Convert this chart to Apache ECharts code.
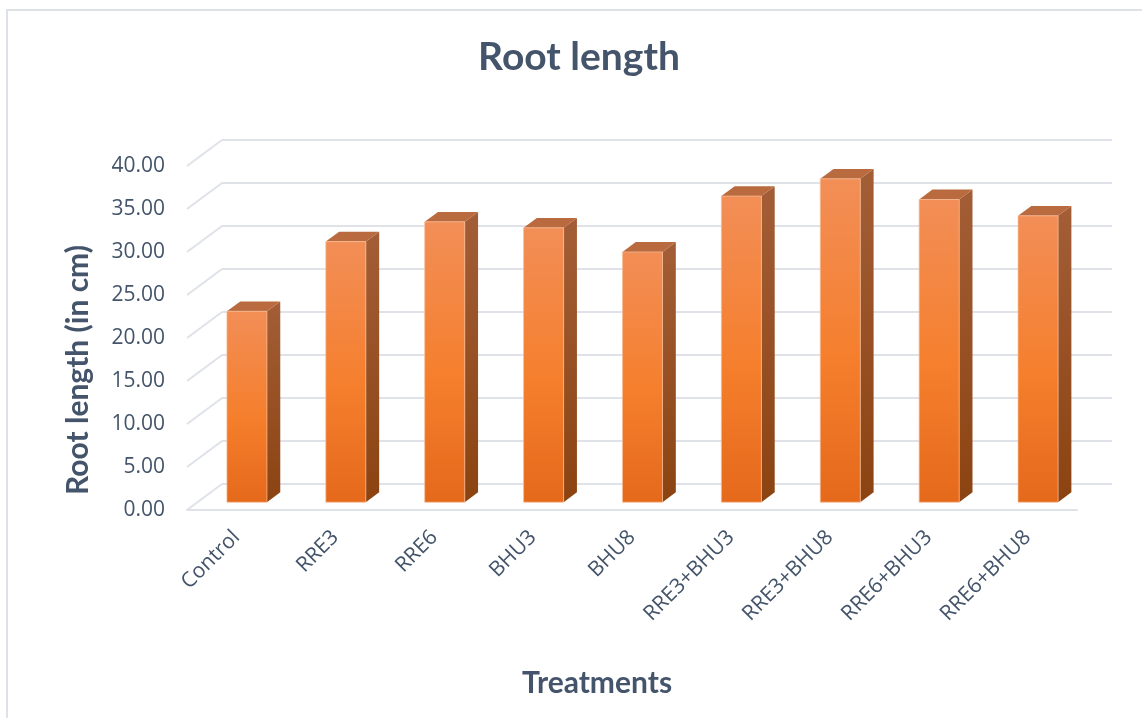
<!DOCTYPE html>
<html>
<head>
<meta charset="utf-8">
<title>Root length</title>
<script src="https://cdn.jsdelivr.net/npm/echarts@6/dist/echarts.min.js"></script>
<style>
  html, body { margin: 0; padding: 0; background: #ffffff; }
  #chart { width: 1142px; height: 718px; }
</style>
</head>
<body>
<div id="chart"></div>
<script>
// Treatments and mean root length (cm)
const categories = ['Control', 'RRE3', 'RRE6', 'BHU3', 'BHU8', 'RRE3+BHU3', 'RRE3+BHU8', 'RRE6+BHU3', 'RRE6+BHU8'];
const rootLength = [22.2, 30.3, 32.6, 31.9, 29.1, 35.6, 37.6, 35.2, 33.3];
const yTicks = [0, 5, 10, 15, 20, 25, 30, 35, 40];

// Oblique 3D look: depth vector from the front floor edge to the back wall
const DEPTH_X = 35, DEPTH_Y = -26;
const BAR_T0 = 0.30, BAR_T1 = 0.68;   // bar position inside the depth
const BAR_WIDTH = 0.405;               // fraction of the category band
const TEXT = '#44546A';
const GRID = '#DFE2E8';
const TITLE_FONT = 'Lato, "Open Sans", sans-serif';
const LABEL_FONT = '"Open Sans", Lato, sans-serif';

const chart = echarts.init(document.getElementById('chart'), null, { renderer: 'canvas' });

// Side wall diagonals and back wall gridlines
function wallItem(params, api) {
  const cs = params.coordSys;
  const y = api.coord([0, api.value(1)])[1];
  const x0 = cs.x;
  const lineStyle = { stroke: GRID, lineWidth: 2, fill: null };
  return {
    type: 'group',
    children: [
      { type: 'line', shape: { x1: x0, y1: y, x2: x0 + DEPTH_X, y2: y + DEPTH_Y }, style: lineStyle },
      { type: 'line', shape: { x1: x0 + DEPTH_X, y1: y + DEPTH_Y, x2: x0 + cs.width + DEPTH_X, y2: y + DEPTH_Y }, style: lineStyle }
    ]
  };
}

// 3D column: front face, right side face and top face
function barItem(params, api) {
  const i = api.value(0);
  const v = api.value(1);
  const base = api.coord([i, 0]);
  const top = api.coord([i, v]);
  const band = api.size([1, 0])[0];
  const w = band * BAR_WIDTH;
  const xl = base[0] - w / 2 + DEPTH_X * BAR_T0;
  const xr = xl + w;
  const yb = base[1] + DEPTH_Y * BAR_T0;
  const yt = top[1] + DEPTH_Y * BAR_T0;
  const dx = DEPTH_X * (BAR_T1 - BAR_T0);
  const dy = DEPTH_Y * (BAR_T1 - BAR_T0);
  return {
    type: 'group',
    children: [
      {
        type: 'polygon',
        shape: { points: [[xr, yb], [xr + dx, yb + dy], [xr + dx, yt + dy], [xr, yt]] },
        style: {
          fill: new echarts.graphic.LinearGradient(0, 0, 0, 1, [
            { offset: 0, color: '#A35E37' },
            { offset: 1, color: '#8B4311' }
          ])
        }
      },
      {
        type: 'polygon',
        shape: { points: [[xl, yt], [xr, yt], [xr + dx, yt + dy], [xl + dx, yt + dy]] },
        style: { fill: '#B96A3F' }
      },
      {
        type: 'rect',
        shape: { x: xl, y: yt, width: w, height: yb - yt },
        style: {
          fill: new echarts.graphic.LinearGradient(0, 0, 0, 1, [
            { offset: 0, color: '#F28E57' },
            { offset: 0.55, color: '#F57F2D' },
            { offset: 1, color: '#E5691B' }
          ]),
          stroke: 'rgba(250,190,150,0.7)',
          lineWidth: 1
        }
      }
    ]
  };
}

const option = {
  animation: false,
  backgroundColor: '#ffffff',
  title: {
    text: 'Root length',
    left: 574,
    top: 33,
    textAlign: 'center',
    textStyle: { color: TEXT, fontSize: 39, fontWeight: 'bold', fontFamily: TITLE_FONT }
  },
  grid: { left: 187, right: 65, top: 166, bottom: 208, containLabel: false },
  xAxis: {
    type: 'category',
    data: categories,
    axisLine: { show: true, lineStyle: { color: GRID, width: 2 } },
    axisTick: { show: false },
    axisLabel: {
      interval: 0,
      rotate: 45,
      margin: 24,
      color: TEXT,
      fontSize: 21,
      fontFamily: LABEL_FONT
    },
    splitLine: { show: false }
  },
  yAxis: {
    type: 'value',
    min: 0,
    max: 40,
    interval: 5,
    axisLine: { show: false },
    axisTick: { show: false },
    splitLine: { show: false },
    axisLabel: {
      margin: 22,
      color: TEXT,
      fontSize: 21,
      fontFamily: LABEL_FONT,
      formatter: v => v.toFixed(2)
    }
  },
  graphic: [
    {
      type: 'rect',
      shape: { x: 7, y: 10, width: 1200, height: 800 },
      style: { fill: null, stroke: '#DEE1E8', lineWidth: 2 },
      silent: true,
      z: -10
    },
    {
      type: 'text',
      x: 78,
      y: 370,
      rotation: Math.PI / 2,
      style: {
        text: 'Root length (in cm)',
        fill: TEXT,
        font: 'bold 30px ' + TITLE_FONT,
        textAlign: 'center',
        textVerticalAlign: 'middle'
      }
    },
    {
      type: 'text',
      x: 597,
      y: 683,
      style: {
        text: 'Treatments',
        fill: TEXT,
        font: 'bold 30px ' + TITLE_FONT,
        textAlign: 'center',
        textVerticalAlign: 'middle'
      }
    }
  ],
  series: [
    {
      type: 'custom',
      name: 'walls',
      clip: false,
      silent: true,
      z: 1,
      renderItem: wallItem,
      data: yTicks.map(v => [0, v])
    },
    {
      type: 'custom',
      name: 'Root length',
      clip: false,
      z: 2,
      renderItem: barItem,
      data: rootLength.map((v, i) => [i, v])
    }
  ]
};

chart.setOption(option);
</script>
</body>
</html>
